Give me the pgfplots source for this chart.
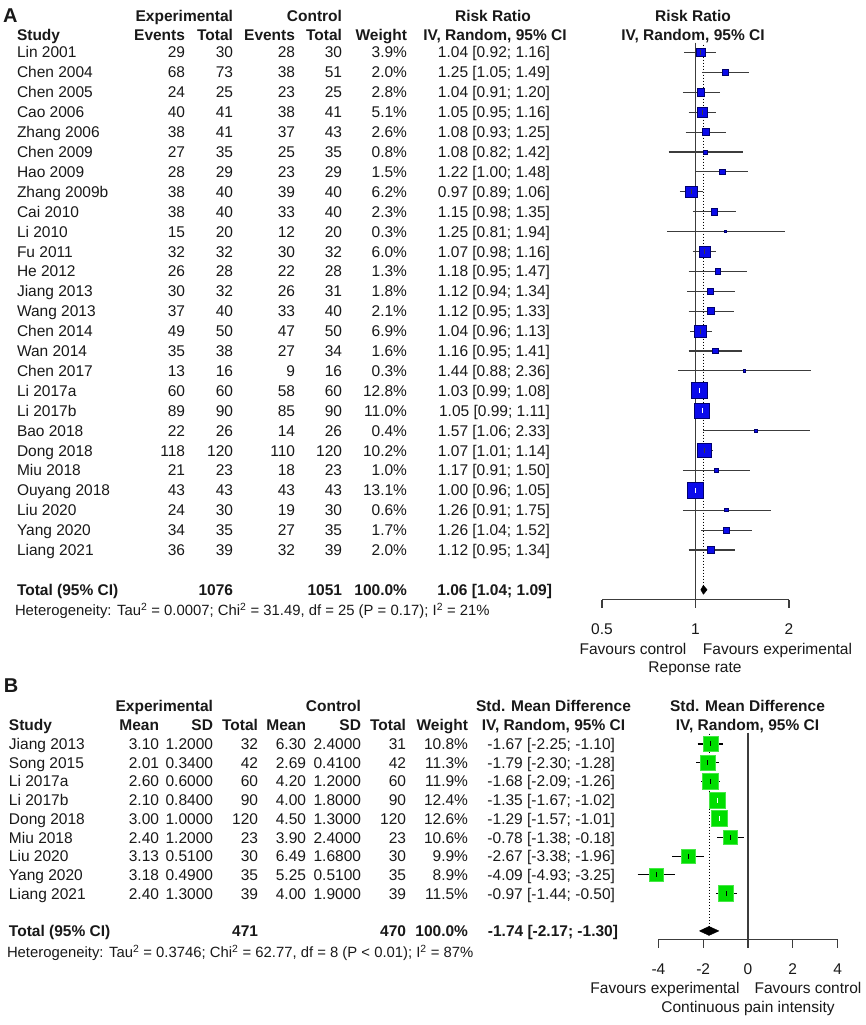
\documentclass[border=0pt]{standalone}
\usepackage{fontspec}
\setmainfont{Liberation Sans}
\usepackage{pgfplots}
\pgfplotsset{compat=1.18}
\usepackage{pgfplotstable}

\definecolor{sqA}{RGB}{10,10,235}
\definecolor{sqAd}{RGB}{0,0,110}
\definecolor{sqB}{RGB}{0,222,0}
\definecolor{sqBd}{RGB}{70,232,70}
\definecolor{txt}{RGB}{25,25,25}
\definecolor{axgray}{RGB}{60,60,60}

\newcommand\fs{\fontsize{15.5}{18}\selectfont}
\newcommand\fh{\fontsize{14.85}{17}\selectfont}

\pgfplotstableread{
row est ms
0 1.04 4.44
1 1.25 3.18
2 1.04 3.76
3 1.05 5.08
4 1.08 3.63
5 1.08 2.01
6 1.22 2.76
7 0.97 5.60
8 1.15 3.41
9 1.25 1.23
10 1.07 5.51
11 1.18 2.57
12 1.12 3.02
13 1.12 3.26
14 1.04 5.91
15 1.16 2.85
16 1.44 1.23
17 1.03 8.05
18 1.05 7.46
19 1.57 1.42
20 1.07 7.19
21 1.17 2.25
22 1.00 8.14
23 1.26 1.74
24 1.26 2.93
25 1.12 3.18
}\tabA

\pgfplotstableread{
row est ms
0 -1.67 7.39
1 -1.79 7.56
2 -1.68 7.76
3 -1.35 7.92
4 -1.29 7.99
5 -0.78 7.33
6 -2.67 7.08
7 -4.09 6.71
8 -0.97 7.63
}\tabB

\newcount\ri
\newcommand\tL[3]{\node[anchor=base west] at (#1,{-(#2)-5.5}) {#3};}
\newcommand\tR[3]{\node[anchor=base east] at (#1,{-(#2)-5.5}) {#3};}
\newcommand\tC[3]{\node[anchor=base] at (#1,{-(#2)-5.5}) {#3};}

\newcommand\rowA[7]{\pgfmathsetmacro\yy{52.5+19.9*\the\ri}\global\advance\ri by 1
 \tL{17}{\yy}{#1}\tR{185}{\yy}{#2}\tR{233}{\yy}{#3}\tR{295}{\yy}{#4}\tR{342}{\yy}{#5}\tR{407}{\yy}{#6\%}\tR{550}{\yy}{#7}}

\newcommand\rowB[9]{\pgfmathsetmacro\yy{744+18.7*\the\ri}\global\advance\ri by 1
 \tL{9}{\yy}{#1}\tR{159}{\yy}{#2}\tR{213}{\yy}{#3}\tR{258}{\yy}{#4}\tR{306}{\yy}{#5}\tR{361}{\yy}{#6}\tR{406}{\yy}{#7}\tR{468}{\yy}{#8\%}\tR{615}{\yy}{#9}}

% one confidence interval segment: lo, hi, y, colour
\newcommand\ci[4]{\addplot[#4, line width=1.1pt] coordinates {(#1,#3) (#2,#3)};}

\begin{document}
\begin{tikzpicture}[x=1pt,y=1pt, every node/.style={inner sep=0pt, outer sep=0pt, text=txt, font=\fs}]
\useasboundingbox (0,0) rectangle (865,-1025);
\fill[white] (0,0) rectangle (865,-1025);

% ---------------- Panel A text ----------------
\node[anchor=base west, font=\fontsize{20}{22}\selectfont\bfseries] at (3,-23) {A};
\tR{233}{16}{\textbf{Experimental}}
\tR{342}{16}{\textbf{Control}}
\tC{493}{16}{\textbf{Risk Ratio}}
\tC{693}{16}{\textbf{Risk Ratio}}
\tL{17}{35}{\textbf{Study}}
\tR{185}{35}{\textbf{Events}}
\tR{233}{35}{\textbf{Total}}
\tR{295}{35}{\textbf{Events}}
\tR{342}{35}{\textbf{Total}}
\tR{407}{35}{\textbf{Weight}}
\tC{495}{35}{\textbf{IV, Random, 95\% CI}}
\tC{693}{35}{\textbf{IV, Random, 95\% CI}}

\global\ri=0
\rowA{Lin 2001}{29}{30}{28}{30}{3.9}{1.04 [0.92; 1.16]}
\rowA{Chen 2004}{68}{73}{38}{51}{2.0}{1.25 [1.05; 1.49]}
\rowA{Chen 2005}{24}{25}{23}{25}{2.8}{1.04 [0.91; 1.20]}
\rowA{Cao 2006}{40}{41}{38}{41}{5.1}{1.05 [0.95; 1.16]}
\rowA{Zhang 2006}{38}{41}{37}{43}{2.6}{1.08 [0.93; 1.25]}
\rowA{Chen 2009}{27}{35}{25}{35}{0.8}{1.08 [0.82; 1.42]}
\rowA{Hao 2009}{28}{29}{23}{29}{1.5}{1.22 [1.00; 1.48]}
\rowA{Zhang 2009b}{38}{40}{39}{40}{6.2}{0.97 [0.89; 1.06]}
\rowA{Cai 2010}{38}{40}{33}{40}{2.3}{1.15 [0.98; 1.35]}
\rowA{Li 2010}{15}{20}{12}{20}{0.3}{1.25 [0.81; 1.94]}
\rowA{Fu 2011}{32}{32}{30}{32}{6.0}{1.07 [0.98; 1.16]}
\rowA{He 2012}{26}{28}{22}{28}{1.3}{1.18 [0.95; 1.47]}
\rowA{Jiang 2013}{30}{32}{26}{31}{1.8}{1.12 [0.94; 1.34]}
\rowA{Wang 2013}{37}{40}{33}{40}{2.1}{1.12 [0.95; 1.33]}
\rowA{Chen 2014}{49}{50}{47}{50}{6.9}{1.04 [0.96; 1.13]}
\rowA{Wan 2014}{35}{38}{27}{34}{1.6}{1.16 [0.95; 1.41]}
\rowA{Chen 2017}{13}{16}{9}{16}{0.3}{1.44 [0.88; 2.36]}
\rowA{Li 2017a}{60}{60}{58}{60}{12.8}{1.03 [0.99; 1.08]}
\rowA{Li 2017b}{89}{90}{85}{90}{11.0}{1.05 [0.99; 1.11]}
\rowA{Bao 2018}{22}{26}{14}{26}{0.4}{1.57 [1.06; 2.33]}
\rowA{Dong 2018}{118}{120}{110}{120}{10.2}{1.07 [1.01; 1.14]}
\rowA{Miu 2018}{21}{23}{18}{23}{1.0}{1.17 [0.91; 1.50]}
\rowA{Ouyang 2018}{43}{43}{43}{43}{13.1}{1.00 [0.96; 1.05]}
\rowA{Liu 2020}{24}{30}{19}{30}{0.6}{1.26 [0.91; 1.75]}
\rowA{Yang 2020}{34}{35}{27}{35}{1.7}{1.26 [1.04; 1.52]}
\rowA{Liang 2021}{36}{39}{32}{39}{2.0}{1.12 [0.95; 1.34]}

\tL{17}{590}{\textbf{Total (95\% CI)}}
\tR{233}{590}{\textbf{1076}}
\tR{342}{590}{\textbf{1051}}
\tR{407}{590}{\textbf{100.0\%}}
\tR{552}{590}{\textbf{1.06 [1.04; 1.09]}}
\node[anchor=base west, font=\fh] at (15,-615.3) {Heterogeneity: Tau\textsuperscript{2} = 0.0007; Chi\textsuperscript{2} = 31.49, df = 25 (P = 0.17); I\textsuperscript{2} = 21\%};

\tC{633}{649}{Favours control}
\tC{777.5}{649}{Favours experimental}
\tC{695}{667}{Reponse rate}

% ---------------- Panel A forest ----------------
\begin{axis}[at={(602pt,-32.6pt)}, anchor=north west, scale only axis,
  width=187pt, height=567.15pt,
  xmode=log, log basis x=2, xmin=0.5, xmax=2, ymin=-27.5, ymax=1,
  axis x line*=bottom, axis y line=none,
  x axis line style={-, draw=axgray, line width=1.1pt},
  xtick={0.5,1,2}, xticklabels={0.5,1,2}, minor xtick={},
  xtick align=outside, major tick length=8pt,
  xtick style={draw=axgray, line width=1.1pt},
  xticklabel style={font=\fs, text=txt, anchor=base, yshift=-26.5pt},
  clip=false]
\addplot[axgray, line width=1.2pt] coordinates {(1,0.5) (1,-27.5)};
\addplot[black, line width=1pt, dash pattern=on 1.5pt off 1.5pt] coordinates {(1.06,0.4) (1.06,-26.75)};
\addplot[scatter, only marks, mark=square*, point meta=explicit,
  scatter/use mapped color={draw=sqAd, fill=sqA}, mark options={line width=0.9pt},
  visualization depends on={\thisrow{ms}\as\perms},
  scatter/@pre marker code/.append style={/tikz/mark size=\perms pt}]
  table[x=est, y expr=-\thisrow{row}, meta=ms] {\tabA};
\ci{0.92}{1.16}{0}{axgray}
\ci{1.05}{1.49}{-1}{axgray}
\ci{0.91}{1.20}{-2}{axgray}
\ci{0.95}{1.16}{-3}{axgray}
\ci{0.93}{1.25}{-4}{axgray}
\ci{0.82}{1.42}{-5}{axgray}
\ci{1.00}{1.48}{-6}{axgray}
\ci{0.89}{1.06}{-7}{axgray}
\ci{0.98}{1.35}{-8}{axgray}
\ci{0.81}{1.94}{-9}{axgray}
\ci{0.98}{1.16}{-10}{axgray}
\ci{0.95}{1.47}{-11}{axgray}
\ci{0.94}{1.34}{-12}{axgray}
\ci{0.95}{1.33}{-13}{axgray}
\ci{0.96}{1.13}{-14}{axgray}
\ci{0.95}{1.41}{-15}{axgray}
\ci{0.88}{2.36}{-16}{axgray}
\ci{0.99}{1.08}{-17}{white}
\ci{0.99}{1.11}{-18}{white}
\ci{1.06}{2.33}{-19}{axgray}
\ci{1.01}{1.14}{-20}{axgray}
\ci{0.91}{1.50}{-21}{axgray}
\ci{0.96}{1.05}{-22}{white}
\ci{0.91}{1.75}{-23}{axgray}
\ci{1.04}{1.52}{-24}{axgray}
\ci{0.95}{1.34}{-25}{axgray}
\addplot[only marks, mark=|, mark size=2.5pt, mark options={axgray, line width=1pt}] coordinates {
(1.04,0) (1.05,-3) (0.97,-7) (1.07,-10) (1.04,-14) (1.07,-20)};
\addplot[only marks, mark=|, mark size=2.5pt, mark options={white, line width=1pt}] coordinates {
(1.03,-17) (1.05,-18) (1.00,-22)};
\addplot[fill=black, draw=black] coordinates {(1.04,-27) (1.06,-26.774) (1.09,-27) (1.06,-27.226) (1.04,-27)};
\end{axis}

% ---------------- Panel B text ----------------
\node[anchor=base west, font=\fontsize{20}{22}\selectfont\bfseries] at (4,-692) {B};
\tR{213}{706}{\textbf{Experimental}}
\tR{361}{706}{\textbf{Control}}
\tC{553.5}{706}{\textbf{Std. Mean Difference}}
\tC{747.5}{706}{\textbf{Std. Mean Difference}}
\tL{9}{725}{\textbf{Study}}
\tR{159}{725}{\textbf{Mean}}
\tR{213}{725}{\textbf{SD}}
\tR{258}{725}{\textbf{Total}}
\tR{306}{725}{\textbf{Mean}}
\tR{361}{725}{\textbf{SD}}
\tR{406}{725}{\textbf{Total}}
\tR{468}{725}{\textbf{Weight}}
\tC{553.5}{725}{\textbf{IV, Random, 95\% CI}}
\tC{747.5}{725}{\textbf{IV, Random, 95\% CI}}

\global\ri=0
\rowB{Jiang 2013}{3.10}{1.2000}{32}{6.30}{2.4000}{31}{10.8}{-1.67 [-2.25; -1.10]}
\rowB{Song 2015}{2.01}{0.3400}{42}{2.69}{0.4100}{42}{11.3}{-1.79 [-2.30; -1.28]}
\rowB{Li 2017a}{2.60}{0.6000}{60}{4.20}{1.2000}{60}{11.9}{-1.68 [-2.09; -1.26]}
\rowB{Li 2017b}{2.10}{0.8400}{90}{4.00}{1.8000}{90}{12.4}{-1.35 [-1.67; -1.02]}
\rowB{Dong 2018}{3.00}{1.0000}{120}{4.50}{1.3000}{120}{12.6}{-1.29 [-1.57; -1.01]}
\rowB{Miu 2018}{2.40}{1.2000}{23}{3.90}{2.4000}{23}{10.6}{-0.78 [-1.38; -0.18]}
\rowB{Liu 2020}{3.13}{0.5100}{30}{6.49}{1.6800}{30}{9.9}{-2.67 [-3.38; -1.96]}
\rowB{Yang 2020}{3.18}{0.4900}{35}{5.25}{0.5100}{35}{8.9}{-4.09 [-4.93; -3.25]}
\rowB{Liang 2021}{2.40}{1.3000}{39}{4.00}{1.9000}{39}{11.5}{-0.97 [-1.44; -0.50]}

\tL{9}{931}{\textbf{Total (95\% CI)}}
\tR{258}{931}{\textbf{471}}
\tR{406}{931}{\textbf{470}}
\tR{468}{931}{\textbf{100.0\%}}
\tR{618}{931}{\textbf{-1.74 [-2.17; -1.30]}}
\node[anchor=base west, font=\fh] at (7,-957.3) {Heterogeneity: Tau\textsuperscript{2} = 0.3746; Chi\textsuperscript{2} = 62.77, df = 8 (P < 0.01); I\textsuperscript{2} = 87\%};

\tC{665}{988}{Favours experimental}
\tC{808}{988}{Favours control}
\tC{748}{1007}{Continuous pain intensity}

% ---------------- Panel B forest ----------------
\begin{axis}[at={(658.4pt,-731.8pt)}, anchor=north west, scale only axis,
  width=179.2pt, height=208.1pt,
  xmin=-4, xmax=4, ymin=-10.48, ymax=0.65,
  axis x line*=bottom, axis y line=none,
  x axis line style={-, draw=axgray, line width=1.1pt},
  xtick={-4,-2,0,2,4}, xticklabels={-4,-2,0,2,4}, minor xtick={},
  xtick align=outside, major tick length=8pt,
  xtick style={draw=axgray, line width=1.1pt},
  xticklabel style={font=\fs, text=txt, anchor=base, yshift=-26.5pt},
  clip=false]
\addplot[axgray, line width=1.2pt] coordinates {(0,0.6) (0,-10.48)};
\addplot[black, line width=1pt, dash pattern=on 1.5pt off 1.5pt] coordinates {(-1.74,0.55) (-1.74,-9.76)};
\addplot[scatter, only marks, mark=square*, point meta=explicit,
  scatter/use mapped color={draw=sqBd, fill=sqB}, mark options={line width=0.9pt},
  visualization depends on={\thisrow{ms}\as\perms},
  scatter/@pre marker code/.append style={/tikz/mark size=\perms pt}]
  table[x=est, y expr=-\thisrow{row}, meta=ms] {\tabB};
\ci{-2.25}{-1.10}{0}{black}
\ci{-2.30}{-1.28}{-1}{black}
\ci{-2.09}{-1.26}{-2}{black}
\ci{-1.67}{-1.02}{-3}{white}
\ci{-1.57}{-1.01}{-4}{white}
\ci{-1.38}{-0.18}{-5}{black}
\ci{-3.38}{-1.96}{-6}{black}
\ci{-4.93}{-3.25}{-7}{black}
\ci{-1.44}{-0.50}{-8}{black}
\addplot[only marks, mark=|, mark size=2.5pt, mark options={black, line width=1pt}] coordinates {
(-1.67,0) (-1.79,-1) (-1.68,-2) (-0.78,-5) (-2.67,-6) (-4.09,-7) (-0.97,-8)};
\addplot[only marks, mark=|, mark size=2.5pt, mark options={white, line width=1pt}] coordinates {
(-1.35,-3) (-1.29,-4)};
\addplot[fill=black, draw=black] coordinates {(-2.17,-10) (-1.74,-9.76) (-1.30,-10) (-1.74,-10.24) (-2.17,-10)};
\end{axis}
\end{tikzpicture}
\end{document}
